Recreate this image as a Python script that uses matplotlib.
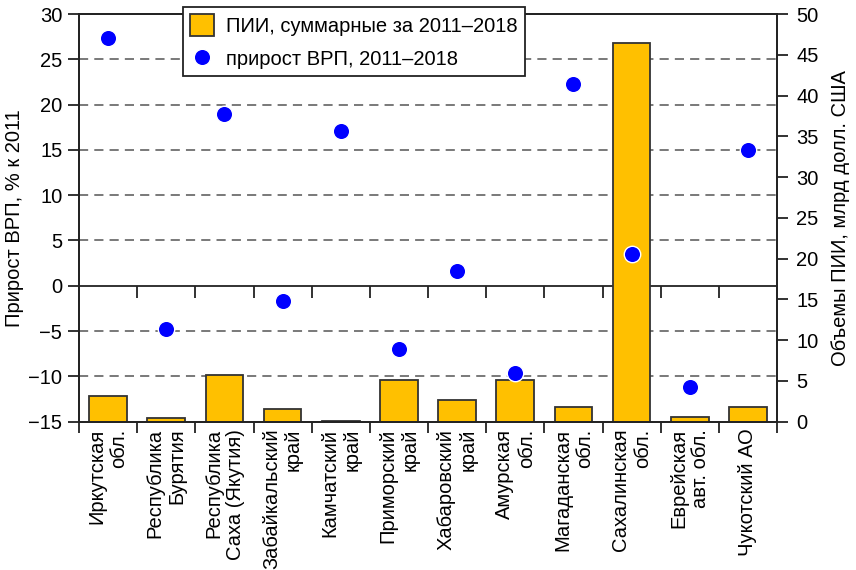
import matplotlib
matplotlib.use("Agg")
from matplotlib import pyplot as plt
import numpy as np

plt.rcParams['font.family'] = ['Liberation Sans', 'DejaVu Sans']

# Data
regions = ["Иркутская\nобл.", "Республика\nБурятия", "Республика\nСаха (Якутия)",
           "Забайкальский\nкрай", "Камчатский\nкрай", "Приморский\nкрай",
           "Хабаровский\nкрай", "Амурская\nобл.", "Магаданская\nобл.",
           "Сахалинская\nобл.", "Еврейская\nавт. обл.", "Чукотский АО"]
fdi_total = [3.1, 0.5, 5.7, 1.6, 0.1, 5.1, 2.7, 5.1, 1.8, 46.5, 0.6, 1.8]   # млрд долл. США
grp_growth = [27.4, -4.8, 19.0, -1.7, 17.1, -7.0, 1.6, -9.6, 22.3, 3.5, -11.2, 15.0]  # % к 2011

label_fdi = "ПИИ, суммарные за 2011–2018"
label_grp = "прирост ВРП, 2011–2018"

x = np.arange(len(regions))
bar_color = "#FFC000"
dot_color = "#0000FF"
fs = 14.5

fig = plt.figure(figsize=(8.56, 5.70), dpi=100)
pos = [79/856, 1-421.7/570, 698/856, (421.7-14)/570]

# left axis: grid, zero line, GRP scale
ax = fig.add_axes(pos)
ax.set_xlim(-0.5, len(regions)-0.5)
ax.set_ylim(-15, 30)
ax.set_yticks(np.arange(-15, 31, 5))
ax.set_yticklabels([str(v).replace("-", "\u2212") for v in range(-15, 31, 5)])
for v in range(-10, 30, 5):
    if v != 0:
        ax.axhline(v, color="#555555", ls=(0, (6, 4)), lw=1.1, zorder=0)
ax.axhline(0, color="#222222", lw=1.3, zorder=1)
ax.vlines(x[:-1] + 0.5, -1.3, 0, color="#222222", lw=1.3, zorder=1)
ax.set_xticks(np.arange(-0.5, len(regions), 1.0))
ax.set_xticklabels([])
ax.set_xticks(x, minor=True)
ax.set_xticklabels(regions, minor=True, rotation=90, ha="center", va="top",
                   multialignment="right", fontsize=fs)
ax.tick_params(axis="x", which="major", direction="out", length=8, width=1.3, color="#222222")
ax.tick_params(axis="x", which="minor", length=0, pad=5)
ax.tick_params(axis="y", direction="out", length=8, width=1.3, color="#222222",
               labelsize=fs, pad=4)
ax.set_ylabel("Прирост ВРП, % к 2011", fontsize=fs, labelpad=3)
for s in ax.spines.values():
    s.set_linewidth(1.3)
    s.set_color("#222222")

# right axis: FDI bars
ax2 = ax.twinx()
ax2.set_ylim(0, 50)
ax2.set_yticks(np.arange(0, 51, 5))
bars = ax2.bar(x, fdi_total, width=0.65, color=bar_color, edgecolor="#333333",
               linewidth=1.3, label=label_fdi)
ax2.tick_params(axis="y", direction="out", length=8, width=1.3, color="#222222",
                labelsize=fs, pad=6)
ax2.set_ylabel("Объемы ПИИ, млрд долл. США", fontsize=fs, labelpad=9)
for s in ax2.spines.values():
    s.set_linewidth(1.3)
    s.set_color("#222222")

# top layer: GRP dots on the left scale
ax3 = fig.add_axes(pos, sharex=ax, sharey=ax)
ax3.patch.set_visible(False)
ax3.axis("off")
dots = ax3.scatter(x, grp_growth, s=140, color=dot_color, edgecolor="white",
                   linewidth=1.0, zorder=5, label=label_grp)

leg = fig.legend([bars, dots], [label_fdi, label_grp], loc="upper left",
                 bbox_to_anchor=(183/856, 1-7/570), borderaxespad=0, fontsize=fs,
                 frameon=True, fancybox=False, edgecolor="#222222", framealpha=1,
                 handlelength=1.2, handleheight=1.3, labelspacing=0.55,
                 borderpad=0.35, handletextpad=0.6, scatterpoints=1)
leg.get_frame().set_linewidth(1.3)

fig.savefig("out.png", dpi=100)
